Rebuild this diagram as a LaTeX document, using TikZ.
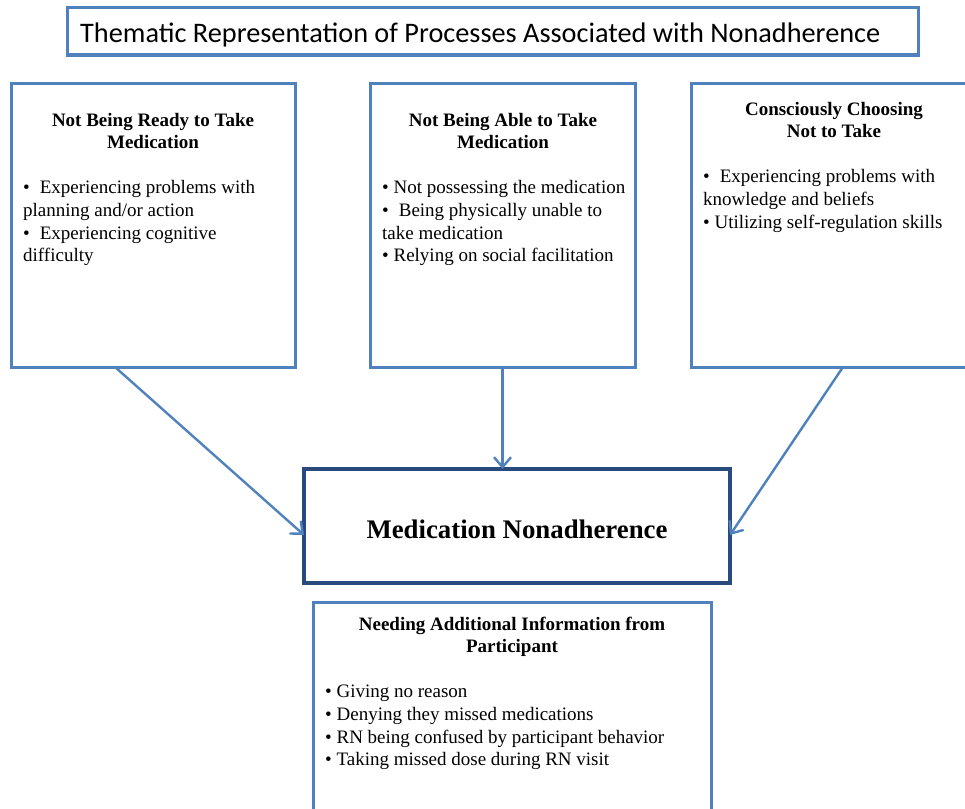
\documentclass[tikz,border=0pt]{standalone}
\usepackage{fontspec}
\setmainfont{Liberation Serif}
\newfontfamily\titlefont{Carlito}
\usetikzlibrary{arrows.meta}
\definecolor{boxblue}{RGB}{79,129,189}
\definecolor{coreblue}{RGB}{40,74,124}

\begin{document}
\begin{tikzpicture}[x=1pt,y=-1pt,
  panel/.style={draw=boxblue,line width=3pt,fill=white,rectangle,inner sep=0pt,outer sep=0pt,anchor=north west},
  corebox/.style={panel,draw=coreblue,line width=3.5pt},
  link/.style={draw=boxblue,line width=2.4pt,-{Straight Barb[length=10pt,width=17pt,line width=2.4pt]}},
  head/.style={anchor=base,inner sep=0pt,font=\fontsize{19}{22}\selectfont\bfseries},
  item/.style={anchor=base west,inner sep=0pt,font=\fontsize{19}{22}\selectfont}]
\useasboundingbox (0,0) rectangle (965,808);
\clip (0,0) rectangle (965,808);

% title banner
\node[panel,minimum width=851pt,minimum height=47pt] (tbox) at (67,8) {};
\node[anchor=base west,inner sep=0pt,font=\titlefont\fontsize{28.3}{32}\selectfont] (ttext) at (80,43)
  {Thematic Representation of Processes Associated with Nonadherence};

% three process panels
\node[panel,minimum width=284pt,minimum height=284pt] (b1) at (11,83) {};
\node[panel,minimum width=265pt,minimum height=284pt] (b2) at (370,83) {};
\node[panel,minimum width=286pt,minimum height=284pt] (b3) at (691,83) {};

% central outcome
\node[corebox,minimum width=426pt,minimum height=114pt] (mn) at (304,469) {};
\node[anchor=base,inner sep=0pt,font=\fontsize{26.8}{30}\selectfont\bfseries] (mntext) at (517,538) {Medication Nonadherence};

% lower panel (runs past the page edge)
\node[panel,minimum width=398pt,minimum height=240pt] (b4) at (313,602) {};

% panel 1 text
\node[head] (h1a) at (153,126) {Not Being Ready to Take};
\node[head] (h1b) at (153,148) {Medication};
\node[item] (i1a) at (23,193) {•\hspace{10pt}Experiencing problems with};
\node[item] (i1b) at (23,216) {planning and/or action};
\node[item] (i1c) at (23,239) {•\hspace{10pt}Experiencing cognitive};
\node[item] (i1d) at (23,261) {difficulty};

% panel 2 text
\node[head] (h2a) at (503,126) {Not Being Able to Take};
\node[head] (h2b) at (503,148) {Medication};
\node[item] (i2a) at (382,193) {• Not possessing the medication};
\node[item] (i2b) at (382,216) {•\hspace{10pt}Being physically unable to};
\node[item] (i2c) at (382,239) {take medication};
\node[item] (i2d) at (382,261) {• Relying on social facilitation};

% panel 3 text
\node[head] (h3a) at (834,115) {Consciously Choosing};
\node[head] (h3b) at (834,137) {Not to Take};
\node[item] (i3a) at (703,182) {•\hspace{10pt}Experiencing problems with};
\node[item] (i3b) at (703,205) {knowledge and beliefs};
\node[item] (i3c) at (703,228) {• Utilizing self-regulation skills};

% lower panel text
\node[head] (h4a) at (512,630) {Needing Additional Information from};
\node[head] (h4b) at (512,652) {Participant};
\node[item] (i4a) at (325,697) {• Giving no reason};
\node[item] (i4b) at (325,720) {• Denying they missed medications};
\node[item] (i4c) at (325,743) {• RN being confused by participant behavior};
\node[item] (i4d) at (325,765) {• Taking missed dose during RN visit};

% connectors
\draw[link] ([xshift=-38pt]b1.south) -- ([yshift=-9pt]mn.west);
\draw[link] (b2.south) -- (b2.south |- mn.north);
\draw[link] ([xshift=9pt]b3.south) -- ([yshift=-9pt]mn.east);
\end{tikzpicture}
\end{document}
